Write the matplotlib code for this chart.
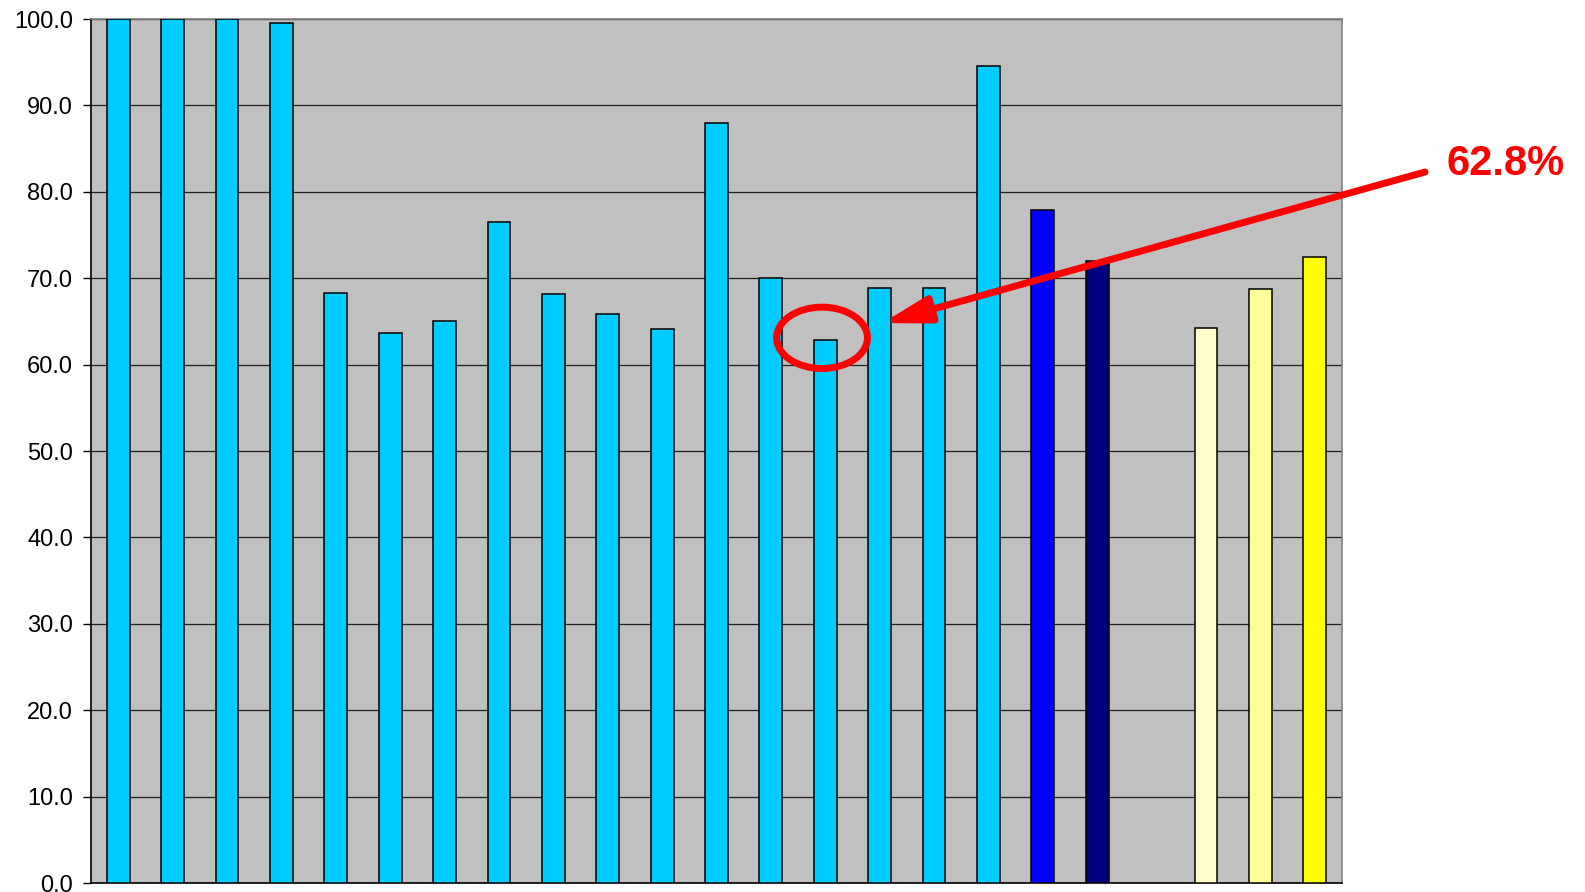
import matplotlib.pyplot as plt
from matplotlib.patches import Ellipse

plt.rcParams['font.family'] = ['Liberation Sans', 'DejaVu Sans']

# one slot per group, None leaves the gap before the last three bars
values = [100.0, 100.0, 100.0, 99.5, 68.3, 63.6, 65.0, 76.5, 68.2, 65.9,
          64.1, 88.0, 70.0, 62.8, 68.9, 68.9, 94.6, 77.9, 72.0, None,
          64.2, 68.8, 72.5]
colors = ['#00CCFF'] * 17 + ['#0000FF', '#000080', 'none',
                             '#FFFFCC', '#FFFF99', '#FFFF00']
y_ticks = [0, 10, 20, 30, 40, 50, 60, 70, 80, 90, 100]
highlight = 13
label = "62.8%"

fig = plt.figure(figsize=(15.85, 8.92), dpi=100)
ax = fig.add_axes([91 / 1585, 9 / 892, (1342 - 91) / 1585, (883 - 19) / 892])
ax.set_facecolor('#C0C0C0')

for i, (v, c) in enumerate(zip(values, colors)):
    if v is None:
        continue
    ax.bar(i, v, width=0.42, color=c, edgecolor='black', linewidth=1.1, zorder=3)

ax.set_xlim(-0.5, len(values) - 0.5)
ax.set_ylim(0, 100)
ax.set_yticks(y_ticks)
ax.set_yticklabels([f"{t:.1f}" for t in y_ticks], fontsize=17)
ax.set_xticks([])
ax.tick_params(axis='y', length=6, width=1, pad=7, direction='out')
ax.yaxis.grid(True, color='#202020', linewidth=0.9, zorder=0)
ax.set_axisbelow(True)

for side in ['top', 'right']:
    ax.spines[side].set_color('#808080')
    ax.spines[side].set_linewidth(1.2)
for side in ['left', 'bottom']:
    ax.spines[side].set_color('black')
    ax.spines[side].set_linewidth(1.2)

# ring round the lowest bar and the callout arrow
ring = Ellipse((highlight - 0.06, 63.1), 1.67, 7.1, fill=False,
               edgecolor='red', linewidth=5, zorder=5)
ax.add_patch(ring)

ax.annotate('', xy=(highlight + 1.05, 64.8), xycoords='data',
            xytext=(1425 / 1585, 1 - 172 / 892), textcoords='figure fraction',
            arrowprops=dict(arrowstyle='-|>,head_length=2.8,head_width=0.8',
                            color='red', lw=5, shrinkA=0, shrinkB=0),
            annotation_clip=False, zorder=6)

fig.text(1446 / 1585, 1 - 164 / 892, label, color='red', fontsize=30,
         fontweight='bold', ha='left', va='center')

fig.savefig('out.png', dpi=100)
